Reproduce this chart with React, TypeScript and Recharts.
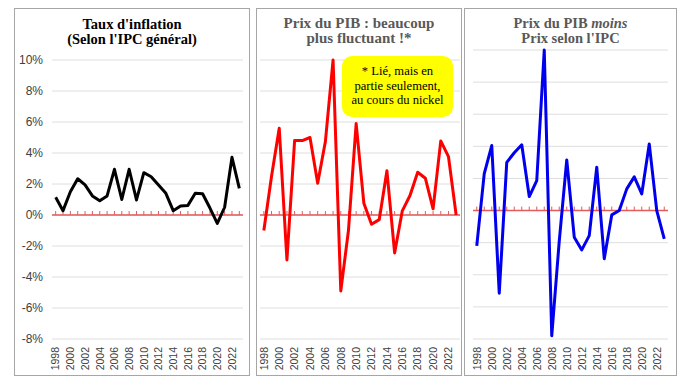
import React from 'react';
import { LineChart, Line, XAxis, YAxis, CartesianGrid, ReferenceLine } from 'recharts';

const years = [1998, 1999, 2000, 2001, 2002, 2003, 2004, 2005, 2006, 2007, 2008, 2009, 2010, 2011, 2012, 2013, 2014, 2015, 2016, 2017, 2018, 2019, 2020, 2021, 2022, 2023];
const cpiInflation = [1.14, 0.28, 1.5, 2.34, 1.94, 1.23, 0.92, 1.23, 2.95, 1.0, 2.95, 0.97, 2.73, 2.47, 1.94, 1.4, 0.28, 0.58, 0.62, 1.4, 1.37, 0.45, -0.54, 0.5, 3.72, 1.72];
const gdpDeflator = [-1.0, 2.5, 5.6, -2.9, 4.8, 4.8, 5.0, 2.05, 4.74, 10.0, -4.9, -1.0, 5.9, 0.76, -0.6, -0.3, 2.85, -2.45, 0.27, 1.26, 2.76, 2.37, 0.4, 4.78, 3.77, 0.0];
const deflatorMinusCpi = [-2.2, 2.3, 4.05, -5.15, 3.0, 3.6, 4.1, 0.87, 1.87, 10.0, -7.8, -1.9, 3.15, -1.66, -2.45, -1.56, 2.7, -3.0, -0.27, 0.0, 1.35, 2.1, 1.04, 4.15, 0.0, -1.76];
const yTicks = [-8, -6, -4, -2, 0, 2, 4, 6, 8, 10];

const data1 = years.map((year, i) => ({ year, value: cpiInflation[i] }));
const data2 = years.map((year, i) => ({ year, value: gdpDeflator[i] }));
const data3 = years.map((year, i) => ({ year, value: deflatorMinusCpi[i] }));

const GRID = '#dedede';
const ZERO = '#e35b5b';
const BORDER = '#a6a6a6';

const YearTick = (props: any) => {
  const { x, y, payload } = props;
  return (
    <text
      x={x}
      y={y}
      transform={`rotate(-90, ${x}, ${y})`}
      textAnchor="end"
      dy="0.36em"
      fontSize={10.5}
      fill="#404040"
      fontFamily="'Liberation Sans', Arial, sans-serif"
    >
      {payload.value}
    </text>
  );
};

const ZeroAxis = (props: any) => {
  const { x1, y1, x2, y2 } = props;
  const n = years.length;
  const step = (x2 - x1) / n;
  return (
    <g>
      <line x1={x1} y1={y1} x2={x2} y2={y2} stroke={ZERO} strokeWidth={1.5} />
      {years.map((_, k) => {
        const tx = x1 + (k + 0.5) * step;
        return <line key={k} x1={tx} x2={tx} y1={y1 - 4} y2={y1} stroke={ZERO} strokeWidth={1} />;
      })}
    </g>
  );
};

const titleBase: React.CSSProperties = {
  position: 'absolute',
  textAlign: 'center',
  fontFamily: "'Liberation Serif', 'Times New Roman', serif",
  fontWeight: 'bold',
  fontSize: 14.5,
  lineHeight: '14.5px',
  whiteSpace: 'nowrap',
};

function Chart({ data, color, width, margin, showY, plotWidth }: any) {
  const pad = plotWidth / years.length / 2;
  return (
    <LineChart width={width} height={368} data={data} margin={margin}>
      <CartesianGrid vertical={false} stroke={GRID} strokeWidth={1} />
      <XAxis
        dataKey="year"
        type="category"
        interval={1}
        tickLine={false}
        axisLine={false}
        tickSize={0}
        tickMargin={8}
        height={30}
        padding={{ left: pad, right: pad }}
        tick={<YearTick />}
      />
      <YAxis
        type="number"
        domain={[-8, 10]}
        ticks={yTicks}
        interval={0}
        hide={!showY}
        width={showY ? 38 : 0}
        tickLine={false}
        axisLine={false}
        tickSize={0}
        tickMargin={9}
        tickFormatter={(v: number) => `${v}%`}
        tick={{ fontSize: 12, fill: '#404040', fontFamily: "'Liberation Sans', Arial, sans-serif" }}
      />
      <ReferenceLine y={0} shape={<ZeroAxis />} />
      <Line
        type="linear"
        dataKey="value"
        stroke={color}
        strokeWidth={3}
        dot={false}
        activeDot={false}
        strokeLinejoin="round"
        isAnimationActive={false}
      />
    </LineChart>
  );
}

export default function App() {
  return (
    <div style={{ position: 'absolute', left: 0, top: 0, width: 684, height: 385, background: '#fff', overflow: 'hidden' }}>
      {/* Panel 1 */}
      <div style={{ position: 'absolute', left: 14, top: 8, width: 236, height: 368, boxSizing: 'border-box', border: `1.5px solid ${BORDER}` }} />
      <div style={{ position: 'absolute', left: 14, top: 8 }}>
        <Chart data={data1} color="#000000" width={236} plotWidth={191} showY margin={{ top: 52, right: 7, bottom: 7, left: 0 }} />
      </div>
      <div style={{ ...titleBase, left: 14, width: 236, top: 17, color: '#000' }}>
        Taux d'inflation<br />(Selon l'IPC général)
      </div>

      {/* Panel 2 */}
      <div style={{ position: 'absolute', left: 256, top: 8, width: 206, height: 368, boxSizing: 'border-box', border: `1.5px solid ${BORDER}` }} />
      <div style={{ position: 'absolute', left: 256, top: 8 }}>
        <Chart data={data2} color="#ff0000" width={206} plotWidth={200} showY={false} margin={{ top: 52, right: 2, bottom: 7, left: 4 }} />
      </div>
      <div style={{ ...titleBase, left: 256, width: 206, top: 16, fontSize: 15, color: '#595959' }}>
        Prix du PIB : beaucoup<br />plus fluctuant !*
      </div>
      <div
        style={{
          position: 'absolute',
          left: 342,
          top: 56,
          width: 111,
          height: 61,
          background: '#ffff00',
          borderRadius: 10,
          boxSizing: 'border-box',
          paddingTop: 8,
          textAlign: 'center',
          fontFamily: "'Liberation Serif', 'Times New Roman', serif",
          fontSize: 12.6,
          lineHeight: '14.5px',
          color: '#000',
          whiteSpace: 'nowrap',
        }}
      >
        * Lié, mais en<br />partie seulement,<br />au cours du nickel
      </div>

      {/* Panel 3 */}
      <div style={{ position: 'absolute', left: 464, top: 8, width: 213, height: 368, boxSizing: 'border-box', border: `1.5px solid ${BORDER}` }} />
      <div style={{ position: 'absolute', left: 464, top: 8 }}>
        <Chart data={data3} color="#0000ee" width={213} plotWidth={195} showY={false} margin={{ top: 42, right: 9, bottom: 7, left: 9 }} />
      </div>
      <div style={{ ...titleBase, left: 464, width: 213, top: 16, color: '#595959' }}>
        Prix du PIB <i>moins</i><br />Prix selon l'IPC
      </div>
    </div>
  );
}
